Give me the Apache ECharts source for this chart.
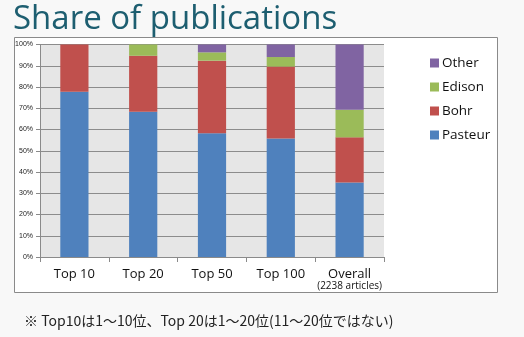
<!DOCTYPE html>
<html><head><meta charset="utf-8">
<script src="https://cdn.jsdelivr.net/npm/echarts@6/dist/echarts.min.js"></script>
<style>html,body{margin:0;padding:0;background:#f8f8f8;}#c{width:524px;height:337px;}</style>
</head><body><div id="c"></div>
<script>
const categories = ['Top 10', 'Top 20', 'Top 50', 'Top 100', 'Overall'];
const pasteur = [77.8, 68.4, 58.2, 55.8, 35.1];
const bohr = [22.2, 26.3, 34.2, 33.8, 21.2];
const edison = [0, 5.3, 3.9, 4.5, 13.0];
const other = [0, 0, 3.7, 5.9, 30.7];
const yTicks = [0, 10, 20, 30, 40, 50, 60, 70, 80, 90, 100];

const chart = echarts.init(document.getElementById('c'));
const colors = {Pasteur:'#4f81bd', Bohr:'#c0504d', Edison:'#9bbb59', Other:'#8064a2'};
function s(name, data){
  return {name, type:'bar', stack:'a', data, barWidth:'41%', itemStyle:{color:colors[name]}};
}
chart.setOption({
  animation:false,
  graphic:[
    {type:'rect', shape:{x:14.5,y:37.5,width:483,height:255}, style:{fill:'#ffffff', stroke:'#8a8a8a', lineWidth:1}, z:-10},
    {type:'text', left:13, top:3, style:{text:'Share of publications', font:'33px "Open Sans"', fill:'#1d5e70'}},
    {type:'text', left:24, top:314, style:{text:'※ Top10は1～10位、Top 20は1～20位(11～20位ではない)', font:'14px "Noto Sans CJK JP"', fill:'#222'}}
  ],
  legend:{
    data:['Other','Edison','Bohr','Pasteur'], orient:'vertical', left:425, top:51,
    itemWidth:9, itemHeight:9, itemGap:10, icon:'rect',
    textStyle:{fontSize:13.5, fontFamily:'Open Sans', color:'#111', padding:[0,0,0,-2]}
  },
  grid:{left:40, top:44.5, width:344, height:212.5, show:true, backgroundColor:'#e6e6e6', borderWidth:0},
  xAxis:{type:'category', data:categories,
    axisLine:{lineStyle:{color:'#8a8a8a'}},
    axisTick:{show:true, length:5, lineStyle:{color:'#8a8a8a'}},
    axisLabel:{interval:0, margin:11, color:'#111', fontSize:13, fontFamily:'Open Sans', lineHeight:13,
      formatter:function(v){ return v==='Overall' ? v+'\n{s|(2238 articles)}' : v; },
      rich:{s:{fontSize:10, fontFamily:'Open Sans', color:'#111', lineHeight:11}}}
  },
  yAxis:{type:'value', min:0, max:100, interval:10,
    axisLine:{show:true, lineStyle:{color:'#8a8a8a'}},
    axisTick:{show:true, length:4, lineStyle:{color:'#8a8a8a'}},
    axisLabel:{fontSize:7, color:'#222', margin:7, fontFamily:'Liberation Sans', formatter:function(v){return yTicks.indexOf(v)>=0 ? v+'%' : '';}},
    splitLine:{lineStyle:{color:'#8c8c8c', width:1}}
  },
  series:[s('Pasteur',pasteur), s('Bohr',bohr), s('Edison',edison), s('Other',other)]
});
</script></body></html>
